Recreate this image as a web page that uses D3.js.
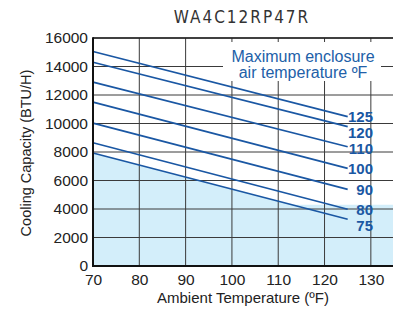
<!DOCTYPE html>
<html>
<head>
<meta charset="utf-8">
<script src="https://cdn.jsdelivr.net/npm/d3@7"></script>
<style>
  body { margin: 0; background: #fff; }
  svg { display: block; }
</style>
</head>
<body>
<svg id="svg" width="393" height="312"></svg>
<script>
// max enclosure air temperature curves (ºF), capacity read at 70ºF and 125ºF ambient
const enclosureTemps = [125, 120, 110, 100, 90, 80, 75];
const ambientEnds = [70, 125];
const capacityAt70 = [15050, 14300, 12900, 11500, 10030, 8650, 7930];
const capacityAt125 = [10480, 9780, 8370, 6850, 5380, 3980, 3280];
const shadeFloor = 4300; // shaded region never drops below this
const xTicks = [70, 80, 90, 100, 110, 120, 130];
const yTicks = [0, 2000, 4000, 6000, 8000, 10000, 12000, 14000, 16000];
const title = "WA4C12RP47R";
const legendLines = ["Maximum enclosure", "air temperature ºF"];

const svg = d3.select("#svg");
const font = "'Liberation Sans', Arial, sans-serif";
const blue = "#1a57a3";

const x = d3.scaleLinear().domain([70, 135]).range([93, 394]);
const y = d3.scaleLinear().domain([0, 16000]).range([266, 38]);

const series = enclosureTemps.map((t, i) => ({
  temp: t,
  points: ambientEnds.map((a, j) => ({ a, v: j === 0 ? capacityAt70[i] : capacityAt125[i] }))
}));

// shaded area: under the lowest curve, but held at the floor value
const low = series[series.length - 1].points;
const cross = low[0].a + (low[0].v - shadeFloor) / (low[0].v - low[1].v) * (low[1].a - low[0].a);
const shade = [
  { a: low[0].a, v: low[0].v },
  { a: cross, v: shadeFloor },
  { a: x.domain()[1], v: shadeFloor }
];
svg.append("path")
  .datum(shade)
  .attr("fill", "#d3eefa")
  .attr("d", d3.area().x(d => x(d.a)).y0(y(0)).y1(d => y(d.v)));

// grid
const grid = svg.append("g").attr("stroke", "#3a3a3a").attr("stroke-width", 1);
grid.selectAll("line.v")
  .data(xTicks.slice(1))
  .join("line")
  .attr("x1", d => x(d)).attr("x2", d => x(d))
  .attr("y1", y(16000)).attr("y2", y(0));
grid.selectAll("line.h")
  .data(yTicks.slice(1))
  .join("line")
  .attr("x1", x(70)).attr("x2", 393)
  .attr("y1", d => y(d)).attr("y2", d => y(d));

// curves
const line = d3.line().x(d => x(d.a)).y(d => y(d.v));
svg.append("g")
  .selectAll("path")
  .data(series)
  .join("path")
  .attr("fill", "none")
  .attr("stroke", blue)
  .attr("stroke-width", 1.7)
  .attr("d", d => line(d.points));

// legend box
svg.append("rect")
  .attr("x", 223).attr("y", 42)
  .attr("width", 158).attr("height", 39)
  .attr("fill", "#fff");
svg.append("g")
  .selectAll("text")
  .data(legendLines)
  .join("text")
  .attr("x", 303)
  .attr("y", (d, i) => 62 + i * 16)
  .attr("text-anchor", "middle")
  .attr("font-family", font)
  .attr("font-size", 16)
  .attr("fill", "#2160a8")
  .text(d => d);

// curve labels, pushed down so they don't collide
let prev = -Infinity;
const labels = series.map(s => {
  const end = s.points[s.points.length - 1];
  const cy = Math.max(y(end.v), prev + 16);
  prev = cy;
  return { temp: s.temp, cy };
});
svg.append("g")
  .selectAll("text")
  .data(labels)
  .join("text")
  .attr("x", 373)
  .attr("y", d => d.cy)
  .attr("dy", "0.36em")
  .attr("text-anchor", "end")
  .attr("font-family", font)
  .attr("font-size", 15)
  .attr("font-weight", "bold")
  .attr("fill", blue)
  .text(d => d.temp);

// axes
const yAxis = svg.append("g")
  .attr("transform", `translate(${x(70)},0)`)
  .call(d3.axisLeft(y).tickValues(yTicks).tickSize(0).tickPadding(5).tickFormat(d3.format("d")));
const xAxis = svg.append("g")
  .attr("transform", `translate(0,${y(0)})`)
  .call(d3.axisBottom(x).tickValues(xTicks).tickSize(0).tickPadding(8));
[yAxis, xAxis].forEach(g => {
  g.select(".domain").remove();
  g.selectAll("text")
    .attr("font-family", font)
    .attr("font-size", 15.5)
    .attr("fill", "#222");
});

// frame
svg.append("line")
  .attr("x1", x(70)).attr("x2", 393)
  .attr("y1", y(16000)).attr("y2", y(16000))
  .attr("stroke", "#222").attr("stroke-width", 1.5);
svg.append("line")
  .attr("x1", x(70)).attr("x2", x(70))
  .attr("y1", y(16000) - 0.75).attr("y2", y(0) + 1)
  .attr("stroke", "#111").attr("stroke-width", 2);
svg.append("line")
  .attr("x1", x(70) - 1).attr("x2", 393)
  .attr("y1", y(0)).attr("y2", y(0))
  .attr("stroke", "#111").attr("stroke-width", 2);

// titles
svg.append("text")
  .attr("x", 242).attr("y", 23)
  .attr("text-anchor", "middle")
  .attr("font-family", "'Liberation Sans Narrow', 'DejaVu Sans Condensed', sans-serif")
  .attr("font-size", 17)
  .attr("letter-spacing", 2)
  .attr("fill", "#333")
  .text(title);
svg.append("text")
  .attr("x", 243).attr("y", 303)
  .attr("text-anchor", "middle")
  .attr("font-family", font)
  .attr("font-size", 15)
  .attr("fill", "#222")
  .text("Ambient Temperature (ºF)");
svg.append("text")
  .attr("transform", "translate(31,153) rotate(-90)")
  .attr("text-anchor", "middle")
  .attr("font-family", font)
  .attr("font-size", 14.5)
  .attr("fill", "#222")
  .text("Cooling Capacity (BTU/H)");
</script>
</body>
</html>
